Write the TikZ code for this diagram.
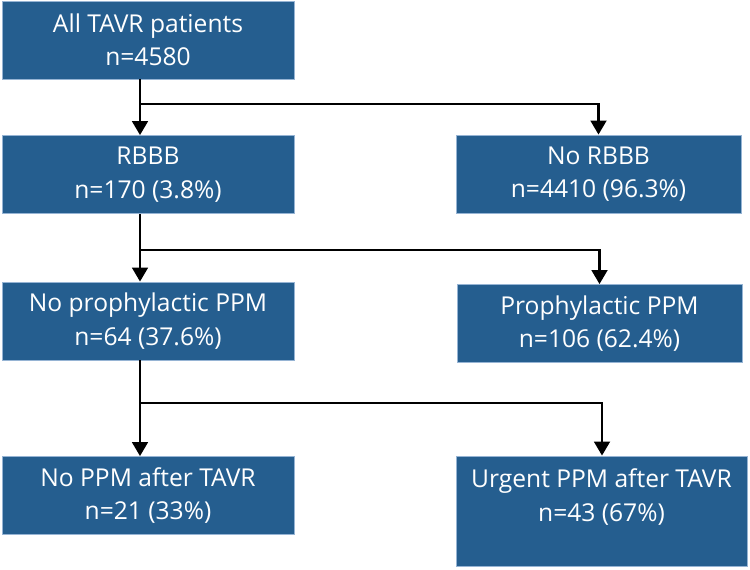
\documentclass[tikz,border=0pt]{standalone}
\usepackage{fontspec}
\setmainfont{Open Sans}
\usepackage{tikz}
\usetikzlibrary{arrows.meta,positioning}

\definecolor{boxblue}{RGB}{37,94,143}
\definecolor{edgeblue}{RGB}{150,180,212}

\begin{document}
\begin{tikzpicture}[
    x=0.02cm, y=-0.02cm,
    mybox/.style={draw=edgeblue, line width=0.5pt, fill=boxblue, text=white,
        align=center, minimum height=1.56cm, inner sep=2pt,
        font=\fontsize{14}{19}\selectfont},
    myarrow/.style={-{Triangle[width=9pt,length=8pt]}, line width=1.4pt}
]
\useasboundingbox (0,0) rectangle (750,569);

\node[mybox, minimum width=5.84cm] (all) at (148,40) {All TAVR patients\\n=4580};
\node[mybox, minimum width=5.84cm] (rbbb) at (148,174.5) {RBBB\\n=170 (3.8\%)};
\node[mybox, minimum width=5.7cm] (norbbb) at (598.5,174) {No RBBB\\n=4410 (96.3\%)};
\node[mybox, minimum width=5.84cm] (noproph) at (148,321) {No prophylactic PPM\\n=64 (37.6\%)};
\node[mybox, minimum width=5.7cm] (proph) at (599.5,323.5) {Prophylactic PPM\\n=106 (62.4\%)};
\node[mybox, minimum width=5.84cm] (noppm) at (148,495.5) {No PPM after TAVR\\n=21 (33\%)};
\node[mybox, minimum width=5.82cm, minimum height=2.2cm, text depth=0.64cm] (urgent) at (601.5,511) {Urgent PPM after TAVR\\n=43 (67\%)};

% branch points
\coordinate (s1) at (140,104);
\coordinate (s2) at (140,250);
\coordinate (s3) at (140,403);

\draw[myarrow] ([xshift=-0.16cm]all.south) -- ([xshift=-0.16cm]rbbb.north);
\draw[myarrow] (s1) -| (norbbb.north);
\draw[myarrow] ([xshift=-0.16cm]rbbb.south) -- ([xshift=-0.16cm]noproph.north);
\draw[myarrow] (s2) -| (proph.north);
\draw[myarrow] ([xshift=-0.16cm]noproph.south) -- ([xshift=-0.16cm]noppm.north);
\draw[myarrow] (s3) -| ([xshift=0.01cm]urgent.north);
\end{tikzpicture}
\end{document}
